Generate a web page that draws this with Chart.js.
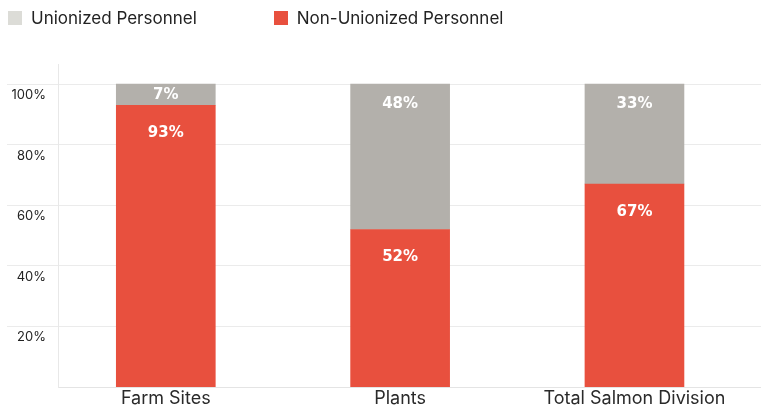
<!DOCTYPE html>
<html>
<head>
<meta charset="utf-8">
<script src="https://cdn.jsdelivr.net/npm/chart.js@4"></script>
<style>
  body { margin: 0; background: #fff; }
  #wrap { position: relative; width: 761px; height: 410px; }
  #legend { position: absolute; left: 8px; top: 8px; font: 17px Inter, sans-serif; color: #222; display: flex; }
  .item { display: flex; align-items: center; margin-right: 77px; }
  .box { width: 14px; height: 14px; margin-right: 9px; }
</style>
</head>
<body>
<div id="wrap">
  <div id="legend"></div>
  <canvas id="barChart" width="761" height="410"></canvas>
</div>
<script>
const categories = ['Farm Sites', 'Plants', 'Total Salmon Division'];
const nonUnionized = [93, 52, 67];
const unionized = [7, 48, 33];
const yTicks = [20, 40, 60, 80, 100];

const RED = '#e8503e';
const GRAY = '#b3b0ab';
const LEGEND_GRAY = '#dcdcd7';

// legend (html, so the gap between items can be set freely)
const legendItems = [['Unionized Personnel', LEGEND_GRAY], ['Non-Unionized Personnel', RED]];
document.getElementById('legend').innerHTML = legendItems
    .map(([t, c]) => `<div class="item"><span class="box" style="background:${c}"></span>${t}</div>`)
    .join('');

// white percentage labels near the top of each segment
const barLabels = {
    id: 'barLabels',
    afterDatasetsDraw(chart) {
        const ctx = chart.ctx;
        ctx.save();
        ctx.fillStyle = '#fff';
        ctx.font = 'bold 15px "DejaVu Sans", sans-serif';
        ctx.textAlign = 'center';
        ctx.textBaseline = 'middle';
        chart.data.datasets.forEach((ds, i) => {
            const off = i === 0 ? 28 : 20;
            chart.getDatasetMeta(i).data.forEach((bar, j) => {
                const y = Math.min(bar.y + off, (bar.y + bar.base) / 2);
                ctx.fillText(ds.data[j].y + '%', bar.x, y);
            });
        });
        ctx.restore();
    }
};

const myChart = new Chart(document.getElementById('barChart'), {
    type: 'bar',
    data: {
        datasets: [
            {
                label: 'Non-Unionized Personnel',
                data: nonUnionized.map((v, i) => ({ x: i, y: v })),
                backgroundColor: RED,
                barThickness: 99,
            },
            {
                label: 'Unionized Personnel',
                data: unionized.map((v, i) => ({ x: i, y: v })),
                backgroundColor: GRAY,
                barThickness: 99,
            },
        ],
    },
    options: {
        responsive: false,
        animation: false,
        layout: { padding: { top: 64, left: 0, right: 0, bottom: 0 } },
        plugins: {
            legend: { display: false },
            tooltip: { enabled: false },
        },
        scales: {
            x: {
                type: 'linear',
                stacked: true,
                offset: false,
                min: -0.46,
                max: 2.54,
                // one tick per category
                afterBuildTicks: (scale) => { scale.ticks = categories.map((c, i) => ({ value: i })); },
                grid: { display: false, drawTicks: false },
                border: { display: true, color: '#e4e4e4' },
                ticks: {
                    autoSkip: false,
                    maxRotation: 0,
                    minRotation: 0,
                    padding: 2,
                    color: '#2a2a2a',
                    font: { family: 'Inter', size: 18, lineHeight: 1.05 },
                    callback: (v) => categories[v] ?? '',
                },
            },
            y: {
                stacked: true,
                min: 0,
                max: 106.6,
                afterFit: (scale) => { scale.width = 58; },
                grid: {
                    tickLength: 51,
                    color: (c) => (c.tick && c.tick.value === 0 ? 'transparent' : '#ebebeb'),
                },
                border: { display: true, color: '#e8e8e8' },
                ticks: {
                    stepSize: 20,
                    includeBounds: false,
                    padding: -39,
                    labelOffset: 11,
                    color: '#222',
                    font: { family: 'Inter', size: 13 },
                    callback: (v) => (yTicks.includes(v) ? v + '%' : ''),
                },
            },
        },
    },
    plugins: [barLabels],
});
</script>
</body>
</html>
